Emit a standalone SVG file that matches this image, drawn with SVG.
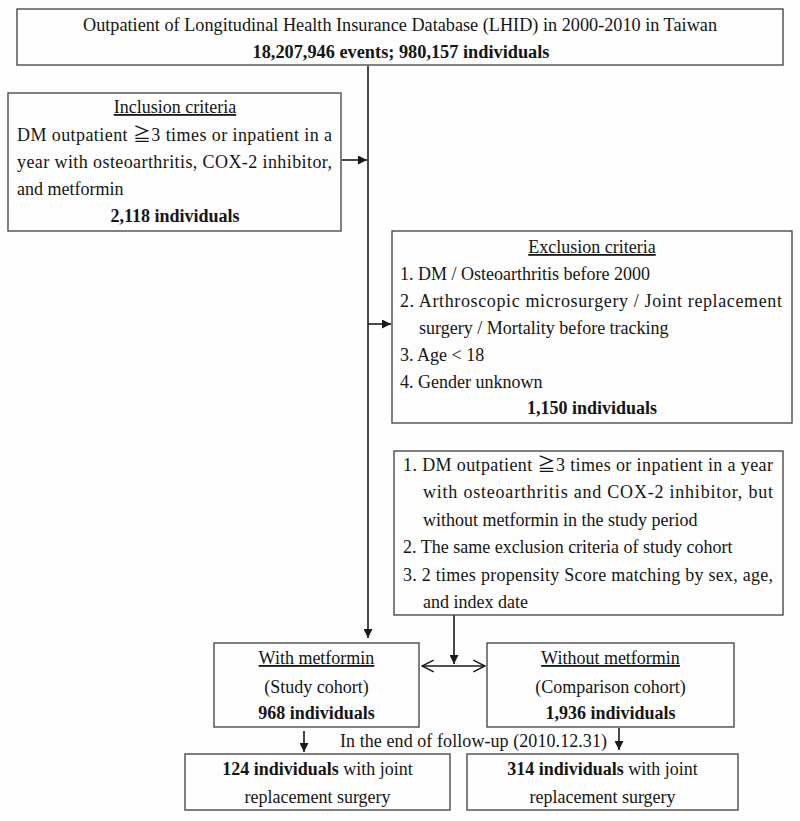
<svg xmlns="http://www.w3.org/2000/svg" width="800" height="821" viewBox="0 0 800 821">
<defs>
<style>
text{font-family:"Liberation Serif","Times New Roman","Noto Sans CJK JP",serif;font-size:18px;fill:#151515}
.b{font-weight:bold}
.c{text-anchor:middle}
.u{text-decoration:underline}
.box{fill:none;stroke:#4a4a4a;stroke-width:1.4}
.ln{fill:none;stroke:#1a1a1a;stroke-width:1.6}
</style>
<marker id="ah" viewBox="0 0 10 10" refX="10" refY="5" markerWidth="9" markerHeight="9" markerUnits="userSpaceOnUse" orient="auto">
<path d="M0,0 L10,5 L0,10 z" fill="#1a1a1a"/>
</marker>
<marker id="oh" viewBox="0 0 12 12" refX="11" refY="6" markerWidth="14" markerHeight="14" markerUnits="userSpaceOnUse" orient="auto-start-reverse">
<path d="M1,1 L11,6 L1,11" fill="none" stroke="#1a1a1a" stroke-width="1.3"/>
</marker>
</defs>
<rect x="0" y="0" width="800" height="821" fill="#fdfdfd"/>

<g id="connectors">
<line class="ln" x1="368" y1="66" x2="368" y2="638" marker-end="url(#ah)"/>
<line class="ln" x1="342" y1="160" x2="367" y2="160" marker-end="url(#ah)"/>
<line class="ln" x1="368" y1="324" x2="391" y2="324" marker-end="url(#ah)"/>
<line class="ln" x1="454" y1="615" x2="454" y2="664" marker-end="url(#ah)"/>
<line class="ln" x1="422" y1="666" x2="485" y2="666" marker-start="url(#oh)" marker-end="url(#oh)"/>
<line class="ln" x1="304" y1="731" x2="304" y2="752" marker-end="url(#ah)"/>
<line class="ln" x1="619" y1="728" x2="619" y2="750" marker-end="url(#ah)"/>
</g>

<g id="source">
<rect class="box" x="17" y="9" width="766" height="56"/>
<text class="c" x="400" y="31" textLength="634" lengthAdjust="spacingAndGlyphs">Outpatient of Longitudinal Health Insurance Database (LHID) in 2000-2010 in Taiwan</text>
<text class="c b" x="401" y="58" textLength="297" lengthAdjust="spacingAndGlyphs">18,207,946 events; 980,157 individuals</text>
</g>

<g id="inclusion">
<rect class="box" x="8" y="93" width="333" height="138"/>
<text class="c u" x="175" y="113">Inclusion criteria</text>
<text x="17" y="141" textLength="315" lengthAdjust="spacing">DM outpatient  ≧3 times or inpatient in a</text>
<text x="17" y="168" textLength="315" lengthAdjust="spacing">year with osteoarthritis, COX-2 inhibitor,</text>
<text x="17" y="195">and metformin</text>
<text class="c b" x="175" y="222">2,118 individuals</text>
</g>

<g id="exclusion">
<rect class="box" x="392" y="231" width="400" height="192"/>
<text class="c u" x="592" y="253">Exclusion criteria</text>
<text x="400" y="280">1. DM / Osteoarthritis before 2000</text>
<text x="400" y="307" textLength="382" lengthAdjust="spacing">2. Arthroscopic microsurgery / Joint replacement</text>
<text x="419" y="334">surgery / Mortality before tracking</text>
<text x="400" y="361">3. Age &lt; 18</text>
<text x="400" y="388">4. Gender unknown</text>
<text class="c b" x="592" y="414">1,150 individuals</text>
</g>

<g id="comparison-criteria">
<rect class="box" x="394" y="451" width="389" height="164"/>
<text x="403" y="471" textLength="370" lengthAdjust="spacing">1. DM outpatient  ≧3 times or inpatient in a year</text>
<text x="423" y="498" textLength="350" lengthAdjust="spacing">with osteoarthritis and COX-2 inhibitor, but</text>
<text x="423" y="526">without metformin in the study period</text>
<text x="403" y="553">2. The same exclusion criteria of study cohort</text>
<text x="403" y="581" textLength="370" lengthAdjust="spacing">3. 2 times propensity Score matching by sex, age,</text>
<text x="423" y="608">and index date</text>
</g>

<g id="with-metformin">
<rect class="box" x="214" y="643" width="205" height="84"/>
<text class="c u" x="316.5" y="664">With metformin</text>
<text class="c" x="316.5" y="693">(Study cohort)</text>
<text class="c b" x="316.5" y="719">968 individuals</text>
</g>

<g id="without-metformin">
<rect class="box" x="487" y="643" width="247" height="84"/>
<text class="c u" x="610.5" y="664">Without metformin</text>
<text class="c" x="610.5" y="693">(Comparison cohort)</text>
<text class="c b" x="610.5" y="719">1,936 individuals</text>
</g>

<g id="follow-up-label">
<text x="340" y="747" textLength="267" lengthAdjust="spacing">In the end of follow-up (2010.12.31)</text>
</g>

<g id="outcome-with">
<rect class="box" x="185" y="754" width="265" height="56"/>
<text class="c" x="317.5" y="775"><tspan class="b">124 individuals</tspan> with joint</text>
<text class="c" x="317.5" y="803">replacement surgery</text>
</g>

<g id="outcome-without">
<rect class="box" x="467" y="754" width="271" height="56"/>
<text class="c" x="602.5" y="775"><tspan class="b">314 individuals</tspan> with joint</text>
<text class="c" x="602.5" y="803">replacement surgery</text>
</g>
</svg>
